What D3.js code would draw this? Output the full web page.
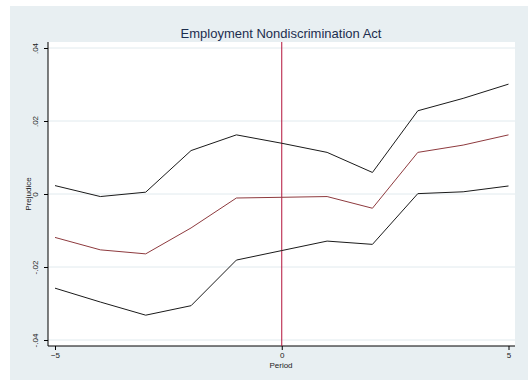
<!DOCTYPE html>
<html><head><meta charset="utf-8">
<script src="https://cdn.jsdelivr.net/npm/d3@7"></script>
<style>body{margin:0;background:#fff}svg{display:block}</style>
</head><body>
<script>
const periods = [-5,-4,-3,-2,-1,0,1,2,3,4,5];
const upper = [0.0023,-0.0007,0.0005,0.0119,0.0162,0.0139,0.0114,0.0059,0.0228,0.0262,0.0301];
const estimate = [-0.0119,-0.0153,-0.0164,-0.0093,-0.0011,-0.0009,-0.0007,-0.0039,0.0114,0.0134,0.0162];
const lower = [-0.0258,-0.0296,-0.0332,-0.0306,-0.0181,-0.0155,-0.0129,-0.0138,0.0001,0.0006,0.0022];
const yTicks = [-0.04,-0.02,0,0.02,0.04];
const yTickLabels = ["-.04","-.02","0",".02",".04"];
const xTicks = [-5,0,5];
const title = "Employment Nondiscrimination Act";

const W=528,H=388;
const svg=d3.select("body").append("svg").attr("width",W).attr("height",H);
svg.append("rect").attr("x",10).attr("y",6).attr("width",518).attr("height",374).attr("fill","#e8eff2");
const L=48,R=515,T=42,B=346;
svg.append("rect").attr("x",L).attr("y",T).attr("width",R-L).attr("height",B-T).attr("fill","#fff");
const x=d3.scaleLinear().domain([-5,5]).range([55,508.5]);
const y=d3.scaleLinear().domain([-0.04,0.04]).range([340,48]);

// gridlines
svg.append("g").selectAll("line").data(yTicks).join("line")
 .attr("x1",L).attr("x2",R).attr("y1",d=>y(d)).attr("y2",d=>y(d))
 .attr("stroke","#e1eaee").attr("stroke-width",1);

// axes
const ya=svg.append("g").attr("transform",`translate(${L},0)`)
 .call(d3.axisLeft(y).tickValues(yTicks).tickFormat((d,i)=>yTickLabels[i]).tickSize(4).tickPadding(3));
ya.select(".domain").attr("d",`M0,${T}V${B}`).attr("stroke","#000");
ya.selectAll(".tick line").attr("stroke","#000");
ya.selectAll(".tick text").attr("transform","rotate(-90)").attr("text-anchor","middle")
 .attr("x",0).attr("y",0).attr("dy",0)
 .attr("transform",d=>`translate(-10,0) rotate(-90)`)
 .style("font-family","Liberation Sans, Arial, sans-serif").style("font-size","8px").attr("fill","#222");

const xa=svg.append("g").attr("transform",`translate(0,${B})`)
 .call(d3.axisBottom(x).tickValues(xTicks).tickFormat(d3.format("d")).tickSize(4).tickPadding(2));
xa.select(".domain").attr("d",`M${L},0H${R}`).attr("stroke","#000");
xa.selectAll(".tick line").attr("stroke","#000");
xa.selectAll(".tick text").style("font-family","Liberation Sans, Arial, sans-serif").style("font-size","8px").attr("fill","#222");

// vertical line at 0
svg.append("line").attr("x1",x(0)).attr("x2",x(0)).attr("y1",T).attr("y2",B)
 .attr("stroke","#b3123a").attr("stroke-width",1);

const line=d3.line().x((d,i)=>x(periods[i])).y(d=>y(d));
svg.append("path").attr("d",line(upper)).attr("fill","none").attr("stroke","#1a1a1a").attr("stroke-width",1);
svg.append("path").attr("d",line(lower)).attr("fill","none").attr("stroke","#1a1a1a").attr("stroke-width",1);
svg.append("path").attr("d",line(estimate)).attr("fill","none").attr("stroke","#8e3a3e").attr("stroke-width",1);

// labels
svg.append("text").attr("x",281).attr("y",38).attr("text-anchor","middle")
 .style("font-family","Liberation Sans, Arial, sans-serif").style("font-size","13px").attr("fill","#1c2d4e").text(title);
svg.append("text").attr("x",281).attr("y",368).attr("text-anchor","middle")
 .style("font-family","Liberation Sans, Arial, sans-serif").style("font-size","8px").attr("fill","#222").text("Period");
svg.append("text").attr("transform","translate(31,194) rotate(-90)").attr("text-anchor","middle")
 .style("font-family","Liberation Sans, Arial, sans-serif").style("font-size","8px").attr("fill","#222").text("Prejudice");
</script>
</body></html>
